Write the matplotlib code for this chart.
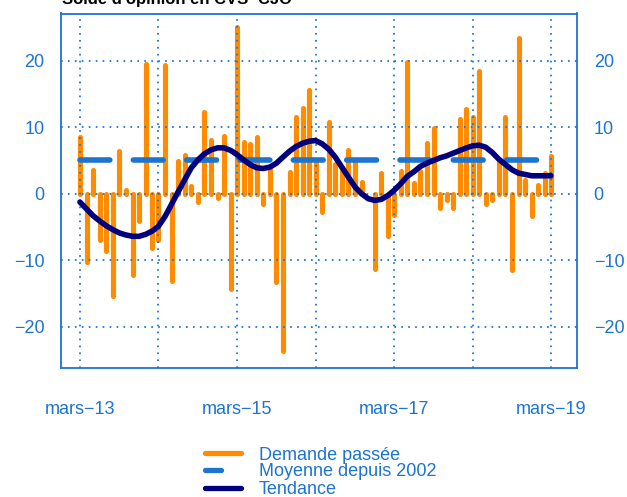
import numpy as np
import pandas as pd
import matplotlib
matplotlib.use("Agg")
import matplotlib.pyplot as plt
from matplotlib.lines import Line2D

plt.rcParams['font.family'] = ['Liberation Sans', 'DejaVu Sans']
plt.rcParams['lines.scale_dashes'] = False

# ---- data ----
start_month = '2013-03-01'
demande_passee = [
    8.6, -10.3, 3.6, -7.0, -8.6, -15.3, 6.5, 0.6, -12.2, -4.1, 19.5, -8.2,
    -6.9, 19.4, -13.1, 4.9, 5.8, 1.1, -1.3, 12.3, 8.1, -0.6, 8.7, -14.3,
    25.0, 7.8, 7.5, 8.5, -1.6, 4.0, -13.3, -23.7, 3.3, 11.6, 12.9, 15.6,
    5.0, -2.7, 10.8, 4.4, 4.0, 6.6, 5.1, 1.7, 0.0, -11.3, 3.1, -6.4,
    -3.2, 3.4, 19.8, 1.6, 3.4, 7.7, 9.9, -2.1, -0.9, -2.2, 11.2, 12.8,
    11.6, 18.5, -1.6, -0.9, 5.1, 11.6, -11.4, 23.4, 2.1, -3.4, 1.3, 3.1,
    5.6,
]
tendance = [
    -1.25, -2.3, -3.3, -4.1, -4.8, -5.4, -5.9, -6.2, -6.4, -6.4, -6.1, -5.6,
    -4.9, -3.4, -1.6, 0.3, 2.1, 3.9, 5.1, 6.0, 6.6, 6.9, 6.9, 6.5,
    5.9, 5.1, 4.4, 3.9, 3.8, 4.0, 4.6, 5.5, 6.4, 7.1, 7.6, 7.9,
    8.0, 7.5, 6.7, 5.5, 4.0, 2.5, 1.0, 0.0, -0.75, -1.0, -0.85, -0.25,
    0.5, 1.5, 2.6, 3.3, 4.1, 4.6, 5.0, 5.4, 5.7, 6.1, 6.5, 6.9,
    7.2, 7.3, 7.0, 6.2, 5.2, 4.4, 3.6, 3.1, 2.9, 2.7, 2.7, 2.7,
    2.7,
]
moyenne_depuis_2002 = 5.0
label_years = ['2013-03-01', '2015-03-01', '2017-03-01', '2019-03-01']
label_texts = ['mars\u221213', 'mars\u221215', 'mars\u221217', 'mars\u221219']
grid_years = ['2013-03-01', '2014-03-01', '2015-03-01', '2016-03-01',
              '2017-03-01', '2018-03-01', '2019-03-01']
y_ticks = [-20, -10, 0, 10, 20]
title = "Solde d'opinion en CVS\u2212CJO"
legend_labels = ['Demande passée', 'Moyenne depuis 2002', 'Tendance']

# ---- style ----
ORANGE = '#FF8C00'
BLUE = '#1C74D0'
NAVY = '#00007F'
TXT = '#1C74D0'

dates = pd.date_range(start_month, periods=len(demande_passee), freq='MS')

fig = plt.figure(figsize=(6.27, 4.97), dpi=100)
ax = fig.add_axes([61/627, 1-368/497, (577-61)/627, (368-13.5)/497])

ax.set_axisbelow(False)
bars = ax.vlines(dates, 0, demande_passee, colors=ORANGE, linewidth=3.7, zorder=2)
bars.set_capstyle('round')

ln_m, = ax.plot(dates, np.full(len(dates), moyenne_depuis_2002), color=BLUE,
                linewidth=4, zorder=4, solid_capstyle='round')
ln_m.set_dashes((21.5, 16.9))
ln_m.set_dash_capstyle('round')

ax.plot(dates, tendance, color=NAVY, linewidth=4, zorder=5,
        solid_capstyle='round', solid_joinstyle='round')

ax.set_xlim(pd.Timestamp('2012-12-03'), pd.Timestamp('2019-06-30'))
ax.set_ylim(-26.2, 27.1)

ax.set_xticks(pd.to_datetime(label_years))
ax.set_xticklabels(label_texts)
ax.set_xticks(pd.to_datetime(grid_years), minor=True)
ax.set_yticks(y_ticks)

ax.grid(True, which='both', axis='x', color=BLUE, linestyle=(0, (1.2, 3.8)),
        linewidth=1.3, zorder=3)
ax.grid(True, which='major', axis='y', color=BLUE, linestyle=(0, (1.2, 3.8)),
        linewidth=1.3, zorder=3)

ax.tick_params(axis='x', which='both', length=0, pad=24, labelsize=13,
               labelcolor=TXT)
ax.tick_params(axis='y', which='both', length=0, left=False, right=False,
               labelleft=True, labelright=True, labelsize=13, labelcolor=TXT,
               pad=12)

for sp in ax.spines.values():
    sp.set_color(BLUE)
    sp.set_linewidth(1.3)

fig.text(62/627, 1-4/497, title, fontsize=12, fontweight='bold', color='black',
         ha='left', va='baseline')

# legend (drawn in figure pixels)
entries_y = [453, 470, 488]
handles = [
    dict(color=ORANGE, x0=205, x1=241),
    dict(color=BLUE, x0=205, x1=221),
    dict(color=NAVY, x0=205, x1=241),
]
for lab, y, h in zip(legend_labels, entries_y, handles):
    fy = 1 - y/497
    fig.add_artist(Line2D([h['x0']/627, h['x1']/627], [fy, fy],
                          transform=fig.transFigure, color=h['color'],
                          linewidth=3.8, solid_capstyle='round'))
    fig.text(259/627, fy, lab, fontsize=13, color=TXT, ha='left',
             va='center_baseline')

fig.savefig('out.png', dpi=100)
